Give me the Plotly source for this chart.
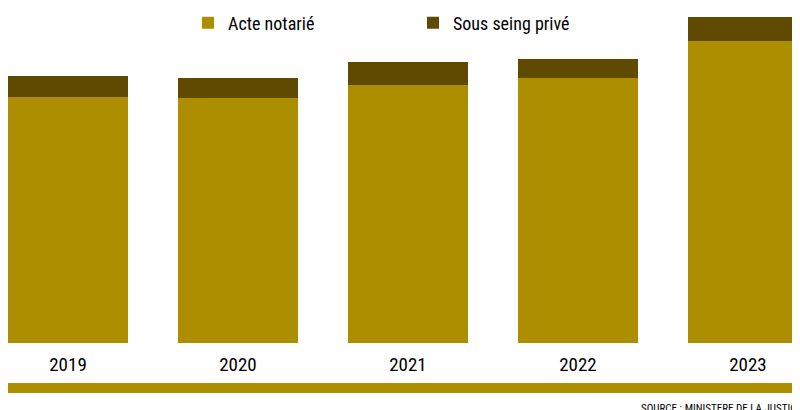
import plotly.graph_objects as go

years = ["2019", "2020", "2021", "2022", "2023"]
acte = [1296, 1292, 1359, 1394, 1590]
sous = [109, 104, 121, 101, 128]
acte_lbl = ["1.296", "1.292", "1.359", "1.394", "1.590"]
sous_lbl = ["109", "104", "121", "101", "128"]

GOLD = "#AD8E00"
DARK = "#5F4A00"
FONT = "Liberation Sans Narrow, Roboto Condensed, Roboto, sans-serif"

fig = go.Figure()
fig.add_trace(go.Bar(x=years, y=acte, name="Acte notarié", marker=dict(color=GOLD, line=dict(width=0))))
fig.add_trace(go.Bar(x=years, y=sous, name="Sous seing privé", marker=dict(color=DARK, line=dict(width=0))))

for x, a, s, al, sl in zip(years, acte, sous, acte_lbl, sous_lbl):
    fig.add_annotation(x=x, y=a + s / 2, text=sl, showarrow=False, yanchor="middle",
                       font=dict(size=22, color="white", family=FONT, weight="bold"))
    fig.add_annotation(x=x, y=a, text=al, showarrow=False, yanchor="top", yshift=-14,
                       font=dict(size=22, color="white", family=FONT, weight="bold"))

fig.update_layout(
    barmode="stack", bargap=0.294, width=800, height=410,
    margin=dict(l=0, r=0, t=0, b=75, autoexpand=False),
    paper_bgcolor="white", plot_bgcolor="white",
    font=dict(family=FONT, color="black"),
    xaxis=dict(range=[-0.353, 4.353], showgrid=False, showline=False, ticks="",
               tickfont=dict(size=19, color="black"), ticklabelstandoff=8),
    yaxis=dict(range=[0, 1765], visible=False),
    legend=dict(orientation="h", x=0.225, y=1.01, xanchor="left", yanchor="top",
                font=dict(size=18, color="black"), bgcolor="rgba(0,0,0,0)",
                traceorder="normal", entrywidthmode="pixels", entrywidth=180),
    showlegend=True,
)
fig.add_shape(type="rect", xref="paper", yref="paper", x0=0, x1=1,
              y0=-(385 - 335) / 335, y1=-(375 - 335) / 335, fillcolor=GOLD, line=dict(width=0))
fig.add_annotation(text="SOURCE : MINISTERE DE LA JUSTICE", xref="paper", yref="paper",
                   x=0.995, y=-(409 - 335) / 335, xanchor="right", yanchor="bottom", showarrow=False,
                   font=dict(size=11, color="black", family=FONT))
fig.write_html("out.html")
